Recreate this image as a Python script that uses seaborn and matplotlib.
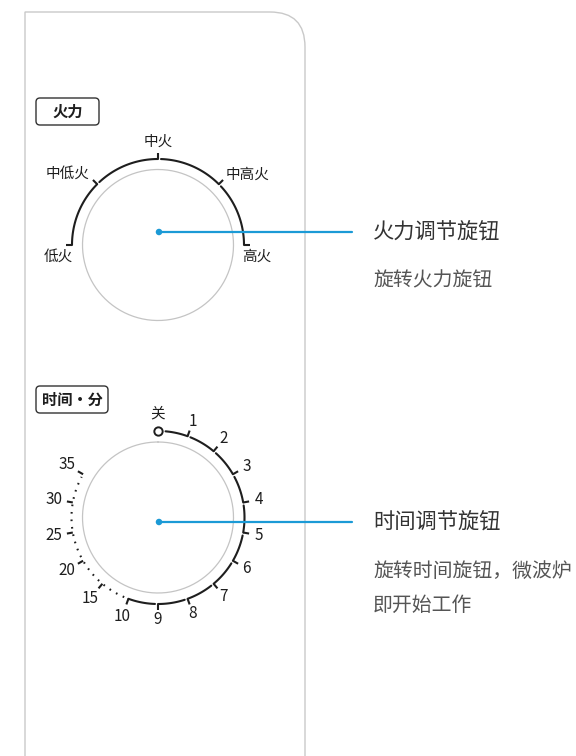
import numpy as np
import seaborn as sns
import matplotlib.pyplot as plt
from matplotlib.patches import FancyBboxPatch, PathPatch
from matplotlib.path import Path

# power knob scale (angles clockwise from 12 o'clock)
power_labels = ['低火', '中低火', '中火', '中高火', '高火']
power_ticks = [-90, -45, 0, 45, 90]
power_label_angles = [-97, -52, 0, 52, 97]
power_label_r = [100, 115, 103, 114, 100]

# timer knob scale
time_labels = ['1', '2', '3', '4', '5', '6', '7', '8', '9', '10', '15', '20', '25', '30', '35']
time_ticks = [20, 40, 60, 80, 100, 120, 140, 160, 180, 200, 220, 240, 260, 280, 300]
time_solid_end = 200

knob_names = ['火力', '时间·分']
knob_titles = ['火力调节旋钮', '时间调节旋钮']
knob_desc = [['旋转火力旋钮'], ['旋转时间旋钮，微波炉', '即开始工作']]
knob_cx = [158, 158]
knob_cy = [245, 517.5]
dot_y = [232, 522]

BLUE = '#1b9ad6'
INK = '#1e1e1e'

sns.set_theme(style='white')
plt.rcParams['font.family'] = ['Noto Sans CJK SC', 'DejaVu Sans']

fig = plt.figure(figsize=(5.76, 7.56), dpi=100)
ax = fig.add_axes([0, 0, 1, 1])


def polar(cx, cy, r, a):
    t = np.radians(a)
    return cx + r * np.sin(t), cy - r * np.cos(t)


def arc(cx, cy, r, a0, a1, **kw):
    a = np.linspace(a0, a1, 80)
    x, y = polar(cx, cy, r, a)
    ax.plot(x, y, **kw)


def tick(cx, cy, r, a, length=6):
    x0, y0 = polar(cx, cy, r, a)
    x1, y1 = polar(cx, cy, r + length, a)
    ax.plot([x0, x1], [y0, y1], color=INK, lw=1.5, solid_capstyle='butt')


# panel outline
R = 35
verts = [(25, 760), (25, 12), (305 - R, 12), (305, 12), (305, 12 + R), (305, 760)]
codes = [Path.MOVETO, Path.LINETO, Path.LINETO, Path.CURVE3, Path.CURVE3, Path.LINETO]
ax.add_patch(PathPatch(Path(verts, codes), fc='none', ec='#c9c9c9', lw=1.0))

# knob faces and name boxes
box_w = [63, 72]
box_y = [98, 386]
for i in range(2):
    cx, cy = knob_cx[i], knob_cy[i]
    t = np.linspace(0, 360, 200)
    x, y = polar(cx, cy, 75.5, t)
    ax.plot(x, y, color='#c4c4c4', lw=0.9)
    ax.add_patch(FancyBboxPatch((36, box_y[i]), box_w[i], 27,
                                boxstyle='round,pad=0,rounding_size=4',
                                fc='white', ec='#333333', lw=1.0))
    ax.text(36 + box_w[i] / 2, box_y[i] + 13.5, knob_names[i], ha='center', va='center',
            fontsize=11, fontweight='bold', color=INK)

# power scale
cx, cy = knob_cx[0], knob_cy[0]
RA = 86
for k in range(len(power_ticks) - 1):
    g = 0 if k == 0 else 2
    arc(cx, cy, RA, power_ticks[k] + g, power_ticks[k + 1], color=INK, lw=1.5)
for a in power_ticks:
    tick(cx, cy, RA, a, 6)
for lab, a, r in zip(power_labels, power_label_angles, power_label_r):
    x, y = polar(cx, cy, r, a)
    ax.text(x, y, lab, ha='center', va='center', fontsize=10.5, color=INK)

# timer scale
cx, cy = knob_cx[1], knob_cy[1]
RT = 86.5
ox, oy = polar(cx, cy, RT, 0)
ax.plot([ox], [oy], marker='o', ms=6, mfc='white', mec=INK, mew=1.4)
x, y = polar(cx, cy, 103, 0)
ax.text(x, y - 1, '关', ha='center', va='center', fontsize=10.5, color=INK)
prev = 5
for a in time_ticks:
    if a <= time_solid_end:
        arc(cx, cy, RT, prev, a, color=INK, lw=1.5)
        prev = a + 2
arc(cx, cy, RT, time_solid_end + 3, time_ticks[-1] - 2, color=INK, lw=1.5,
    linestyle=(0, (0.8, 2.8)))
for a in time_ticks:
    tick(cx, cy, RT, a, 6)
for lab, a in zip(time_labels, time_ticks):
    r = 102.5 if len(lab) == 1 else 105.5
    x, y = polar(cx, cy, r, a)
    ax.text(x, y, lab, ha='center', va='center', fontsize=11, color=INK)

# leader lines, dots and callout text
for i in range(2):
    sns.lineplot(x=[knob_cx[i] + 1, 352], y=[dot_y[i], dot_y[i]], ax=ax,
                 color=BLUE, lw=1.6, sort=False)
    ax.text(373, dot_y[i], knob_titles[i], ha='left', va='center',
            fontsize=15.3, color='#333333')
    for j, line in enumerate(knob_desc[i]):
        ax.text(373, dot_y[i] + 49 + 34 * j, line, ha='left', va='center',
                fontsize=14.3, color='#555555')
sns.scatterplot(x=[c + 1 for c in knob_cx], y=dot_y, ax=ax, color=BLUE, s=22,
                edgecolor='none', zorder=5)

ax.set_xlim(0, 576)
ax.set_ylim(756, 0)
ax.set_axis_off()
fig.savefig('out.png', dpi=100)
